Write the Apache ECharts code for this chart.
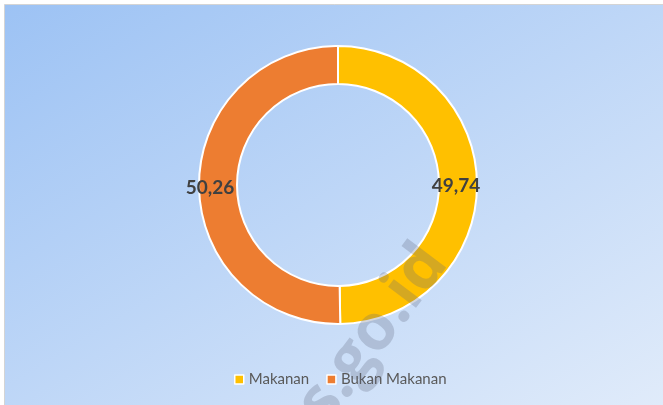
<!DOCTYPE html>
<html>
<head>
<meta charset="utf-8">
<script src="https://cdn.jsdelivr.net/npm/echarts@6/dist/echarts.min.js"></script>
<style>
  html, body { margin: 0; padding: 0; background: #fff; }
  #chart { width: 663px; height: 405px; }
</style>
</head>
<body>
<div id="chart"></div>
<script>
// data
const categories = ['Makanan', 'Bukan Makanan'];
const values = [49.74, 50.26];
const colors = ['#FFC000', '#ED7D31'];

let chart = echarts.init(document.getElementById('chart'), null, { renderer: 'canvas' });

let pieData = categories.map((name, i) => ({
    name: name,
    value: values[i],
    itemStyle: { color: colors[i] }
}));

let option = {
    animation: false,
    graphic: [
        {
            type: 'rect',
            z: -10,
            shape: { x: 4.5, y: 4.5, width: 670, height: 410 },
            style: {
                fill: new echarts.graphic.LinearGradient(0, 0, 358, 590, [
                    { offset: 0, color: '#9CC2F4' },
                    { offset: 1, color: '#E0EBFA' }
                ], true),
                stroke: '#D4D4D4',
                lineWidth: 1
            }
        },
        {
            type: 'text',
            z: 100,
            x: 460,
            y: 272,
            rotation: 53 * Math.PI / 180,
            style: {
                text: 'bps.go.id',
                font: 'bold 64px "Open Sans", sans-serif',
                fill: 'rgba(95,105,125,0.27)',
                textAlign: 'right',
                textVerticalAlign: 'bottom'
            }
        }
    ],
    legend: {
        bottom: 13,
        left: 229,
        itemWidth: 9,
        itemHeight: 9,
        itemGap: 17,
        icon: 'rect',
        itemStyle: { borderColor: '#fff', borderWidth: 1.5 },
        textStyle: {
            color: '#595959',
            fontSize: 15,
            fontFamily: 'Lato'
        },
        data: categories
    },
    series: [
        {
            type: 'pie',
            center: [338, 185],
            radius: [101, 139],
            startAngle: 90,
            clockwise: true,
            itemStyle: { borderColor: '#fff', borderWidth: 2 },
            label: {
                show: true,
                position: 'inside',
                formatter: p => p.value.toFixed(2).replace('.', ','),
                color: '#404040',
                fontSize: 19,
                fontWeight: 'bold',
                fontFamily: 'Lato',
                offset: [-5, 2]
            },
            labelLine: { show: false },
            emphasis: { disabled: true },
            data: pieData
        }
    ]
};

chart.setOption(option);
</script>
</body>
</html>
